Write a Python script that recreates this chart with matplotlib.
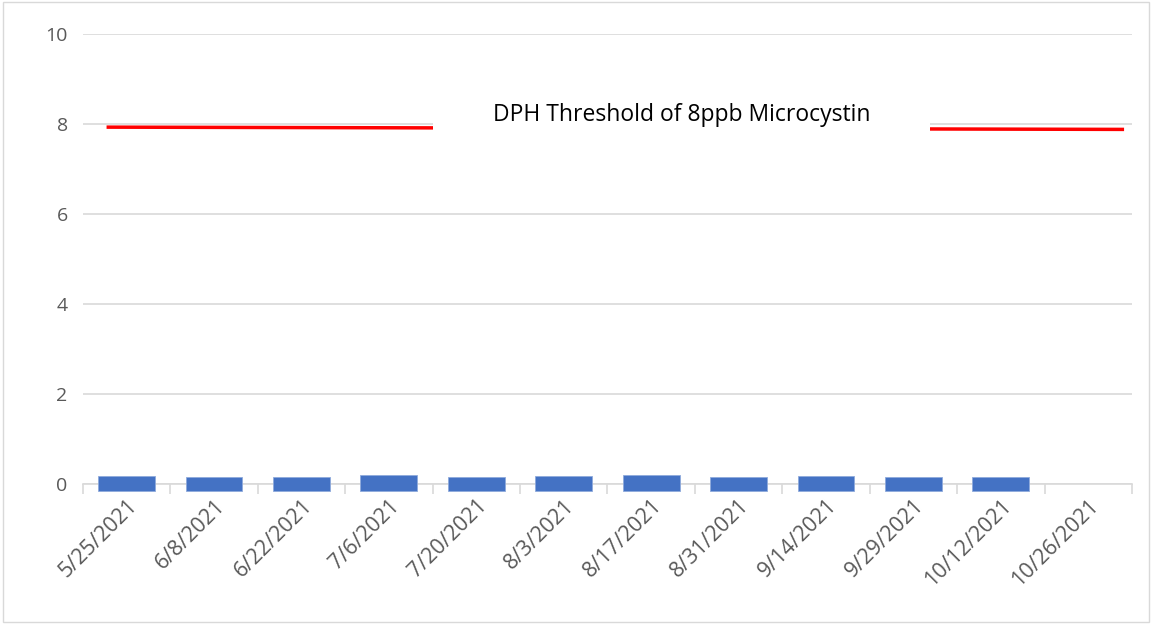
import numpy as np
import matplotlib.pyplot as plt
from matplotlib.patches import Rectangle

dates = ["5/25/2021", "6/8/2021", "6/22/2021", "7/6/2021", "7/20/2021", "8/3/2021",
         "8/17/2021", "8/31/2021", "9/14/2021", "9/29/2021", "10/12/2021", "10/26/2021"]
microcystin = [0.17, 0.16, 0.16, 0.20, 0.16, 0.17, 0.19, 0.16, 0.17, 0.16, 0.16, np.nan]
threshold_start = 7.93
threshold_end = 7.88
threshold_label = "DPH Threshold of 8ppb Microcystin"

plt.rcParams["font.family"] = ["Open Sans", "DejaVu Sans"]

fig = plt.figure(figsize=(11.52, 6.24), dpi=100)
ax = fig.add_axes([0.072, 0.2244, 0.9106, 0.7211])

x = np.arange(len(dates))
base = -0.15
vals = np.array(microcystin)
ax.bar(x, vals - base, bottom=base, width=0.65, color="#4472C4",
       edgecolor="#8FAADC", linewidth=0.6, clip_on=False, zorder=3)

# threshold line (Excel-style drawn line with a text box over its middle)
ax.plot([-0.21, 11.39], [threshold_start, threshold_end], color="red", lw=2.5, zorder=4)
ax.add_patch(Rectangle((3.5, 7.55), 5.69, 1.0, facecolor="white", edgecolor="none", zorder=5))
ax.text(6.35, 8.2, threshold_label, ha="center", va="center", fontsize=16.5, color="black", zorder=6)

ax.set_xlim(-0.5, len(dates) - 0.5)
ax.set_ylim(0, 10)
ax.set_yticks([0, 2, 4, 6, 8, 10])
ax.grid(axis="y", color="#D9D9D9", lw=1.2, zorder=0)
for s in ["top", "right", "left"]:
    ax.spines[s].set_visible(False)
ax.spines["bottom"].set_color("#D9D9D9")
ax.spines["bottom"].set_linewidth(1.2)

ax.set_xticks(np.arange(-0.5, len(dates), 1.0), minor=False)
ax.set_xticklabels([])
ax.tick_params(axis="x", which="major", length=7, color="#D9D9D9", width=1.2)
ax.set_xticks(x, minor=True)
ax.set_xticklabels(dates, minor=True, rotation=45, ha="right", rotation_mode="anchor",
                   fontsize=15.5, color="#595959")
ax.tick_params(axis="x", which="minor", length=0, pad=8)
ax.tick_params(axis="y", length=0, labelsize=14, labelcolor="#595959", pad=11)

fig.patches.append(Rectangle((0.003, 0.003), 0.994, 0.994, transform=fig.transFigure,
                             fill=False, edgecolor="#D9D9D9", lw=1))

fig.savefig("out.png", dpi=100)
